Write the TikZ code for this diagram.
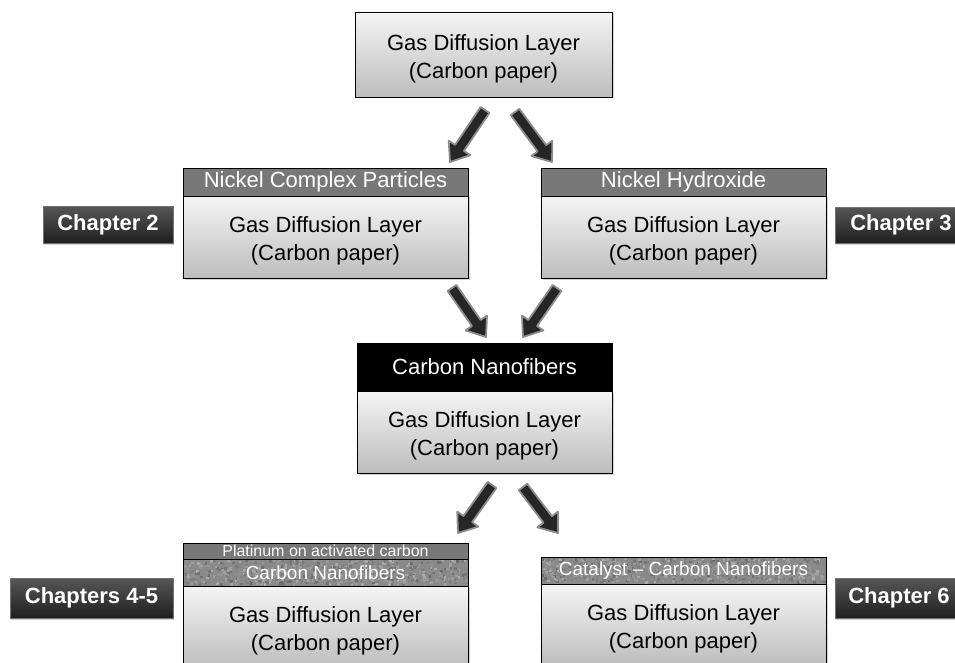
\documentclass[tikz,border=0pt]{standalone}
\usepackage{fontspec}
\setmainfont{Liberation Sans}
\usetikzlibrary{calc,shadows}
\definecolor{hdrgray}{HTML}{787878}
\definecolor{arrowfill}{HTML}{262626}
\definecolor{arrowedge}{HTML}{8C8C8C}
\newcommand\blockarrow[2]{%
  \path ($(#2)!17pt!(#1)$) coordinate (neck);
  \filldraw[arrowstyle] ($(#1)!5.3pt!90:(#2)$) -- ($(neck)!5.3pt!90:(#2)$) -- ($(neck)!13pt!90:(#2)$) -- (#2)
    -- ($(neck)!13pt!-90:(#2)$) -- ($(neck)!5.3pt!-90:(#2)$) -- ($(#1)!5.3pt!-90:(#2)$) -- cycle;}
\newcommand\noisefill[4]{% x0 y0 width height
  \fill[black!46] (#1,#2) rectangle ++(#3,#4);
  \pgfmathsetseed{#1#2}
  \foreach \i in {1,...,700}{%
    \pgfmathsetmacro\rx{#1+(#3-2.5)*rnd}%
    \pgfmathsetmacro\ry{#2+(#4-2.5)*rnd}%
    \pgfmathsetmacro\gv{32+26*rnd}%
    \fill[black!\gv] (\rx,\ry) rectangle ++(2.5,2.5);}}
\begin{document}
\begin{tikzpicture}[x=1pt,y=-1pt,
  gdl/.style={draw=black, line width=0.8pt, top color=black!4, bottom color=black!26,
    minimum width=285pt, minimum height=82pt, inner sep=0pt,
    drop shadow={shadow xshift=1.5pt, shadow yshift=-1.5pt, opacity=0.35},
    label={[gdltext]center:Gas Diffusion Layer\\(Carbon paper)}},
  gdltext/.style={align=center, yshift=-4pt, inner sep=0pt, font=\fontsize{22}{28}\selectfont},
  hdr/.style={draw=black, line width=0.8pt, fill=hdrgray, text=white,
    minimum width=285pt, inner sep=0pt, font=\fontsize{22}{26}\selectfont},
  texhdr/.style={draw=black, line width=0.8pt, text=white,
    minimum width=285pt, inner sep=0pt, font=\fontsize{19}{22}\selectfont},
  chap/.style={draw=black!55, line width=0.5pt, top color=black!66, bottom color=black!88,
    text=white, inner sep=0pt, font=\fontsize{22}{26}\selectfont\bfseries,
    drop shadow={shadow xshift=1.2pt, shadow yshift=-1.5pt, opacity=0.35}},
  arrowstyle/.style={fill=arrowfill, draw=arrowedge, line width=1.8pt, line join=round}]
\useasboundingbox (0,0) rectangle (955,663);
\clip (0,0) rectangle (955,663);

% top box
\node[gdl, minimum width=257pt, minimum height=85pt] (top) at (483.5,54.5) {};

% middle left
\node[gdl] (ml) at (325.5,237) {};
\node[hdr, minimum height=28pt] (mlh) at (325.5,182) {Nickel Complex Particles};
% middle right
\node[gdl] (mr) at (683.5,237) {};
\node[hdr, minimum height=28pt] (mrh) at (683.5,182) {Nickel Hydroxide};

% center
\node[gdl, minimum width=255pt] (c) at (484.5,432) {};
\node[hdr, fill=black, minimum width=255pt, minimum height=48pt] (ch) at (484.5,367) {Carbon Nanofibers};

% bottom left
\node[gdl] (bl) at (325.5,627) {};
\noisefill{183}{559}{285}{27}
\node[texhdr, minimum height=27pt] (blh2) at (325.5,572.5) {Carbon Nanofibers};
\node[hdr, minimum height=16pt, font=\fontsize{16}{18}\selectfont] (blh1) at (325.5,551) {Platinum on activated carbon};

% bottom right
\node[gdl] (br) at (683.5,625) {};
\noisefill{541}{557}{285}{27}
\node[texhdr, minimum height=27pt] (brh) at (683.5,570.5) {Catalyst – Carbon Nanofibers};

% chapter labels
\node[chap, minimum width=130pt, minimum height=37pt] (ch2) at (108,224.5) {Chapter 2};
\node[chap, minimum width=132pt, minimum height=36pt] (ch3) at (901,225) {Chapter 3};
\node[chap, minimum width=163pt, minimum height=40pt] (ch45) at (91.5,598) {Chapters 4-5};
\node[chap, minimum width=128pt, minimum height=40pt] (ch6) at (899,598) {Chapter 6};

% arrows
\coordinate (a1s) at (485,110); \coordinate (a1e) at (450,162);
\coordinate (a2s) at (515,112); \coordinate (a2e) at (552,162);
\coordinate (a3s) at (452,288); \coordinate (a3e) at (486,337);
\coordinate (a4s) at (557,288); \coordinate (a4e) at (523,337);
\coordinate (a5s) at (492,485); \coordinate (a5e) at (458,533);
\coordinate (a6s) at (523,487); \coordinate (a6e) at (558,533);
\blockarrow{a1s}{a1e}
\blockarrow{a2s}{a2e}
\blockarrow{a3s}{a3e}
\blockarrow{a4s}{a4e}
\blockarrow{a5s}{a5e}
\blockarrow{a6s}{a6e}
\end{tikzpicture}
\end{document}
